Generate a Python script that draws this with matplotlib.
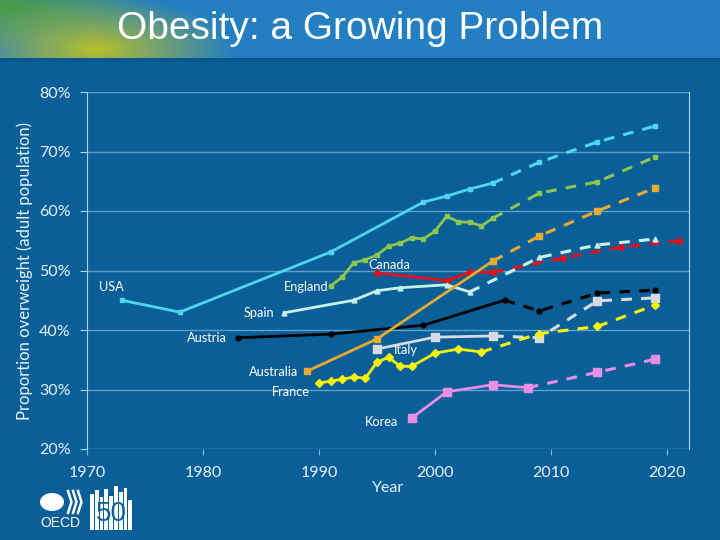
import numpy as np
import matplotlib
matplotlib.use("Agg")
import matplotlib.pyplot as plt
from matplotlib.patches import Circle, Rectangle
from matplotlib.lines import Line2D

usa_years      = [1973, 1978, 1991, 1999, 2001, 2003, 2005]
usa_vals       = [45.0, 43.0, 53.1, 61.5, 62.5, 63.7, 64.7]
usa_proj_years = [2009, 2014, 2019]
usa_proj_vals  = [68.2, 71.6, 74.3]

eng_years      = [1991, 1992, 1993, 1994, 1995, 1996, 1997, 1998, 1999, 2000, 2001, 2002, 2003, 2004, 2005]
eng_vals       = [47.4, 48.9, 51.3, 51.8, 52.6, 54.1, 54.6, 55.5, 55.3, 56.6, 59.1, 58.2, 58.1, 57.5, 58.8]
eng_proj_years = [2009, 2014, 2019]
eng_proj_vals  = [63.0, 64.9, 69.1]

can_years      = [1995, 2001, 2003, 2005]
can_vals       = [49.6, 48.3, 49.7, 49.7]
can_proj_years = [2011, 2016, 2021]
can_proj_vals  = [52.1, 53.9, 55.0]

spa_years      = [1987, 1993, 1995, 1997, 2001, 2003]
spa_vals       = [42.9, 45.0, 46.6, 47.1, 47.6, 46.4]
spa_proj_years = [2009, 2014, 2019]
spa_proj_vals  = [52.2, 54.3, 55.3]

aut_years      = [1983, 1991, 1999, 2006]
aut_vals       = [38.7, 39.3, 40.8, 45.0]
aut_proj_years = [2009, 2014, 2019]
aut_proj_vals  = [43.2, 46.2, 46.7]

ita_years      = [1995, 2000, 2005]
ita_vals       = [36.8, 38.8, 39.0]
ita_proj_years = [2009, 2014, 2019]
ita_proj_vals  = [38.7, 44.9, 45.4]

aus_years      = [1989, 1995, 2005]
aus_vals       = [33.1, 38.5, 51.6]
aus_proj_years = [2009, 2014, 2019]
aus_proj_vals  = [55.8, 60.0, 63.9]

fra_years      = [1990, 1991, 1992, 1993, 1994, 1995, 1996, 1997, 1998, 2000, 2002, 2004]
fra_vals       = [31.1, 31.4, 31.7, 32.1, 31.9, 34.6, 35.4, 33.9, 33.9, 36.1, 36.8, 36.3]
fra_proj_years = [2009, 2014, 2019]
fra_proj_vals  = [39.4, 40.6, 44.2]

kor_years      = [1998, 2001, 2005, 2008]
kor_vals       = [25.2, 29.6, 30.8, 30.3]
kor_proj_years = [2014, 2019]
kor_proj_vals  = [32.9, 35.1]

# (name, years, vals, proj years, proj vals, colour, marker, marker size, label x, label y)
series = [
    ("USA",       usa_years, usa_vals, usa_proj_years, usa_proj_vals, "#4fd6ee", "s", 3.5, 1972.1, 47.2),
    ("England",   eng_years, eng_vals, eng_proj_years, eng_proj_vals, "#8cc64e", "s", 3.5, 1988.9, 47.2),
    ("Canada",    can_years, can_vals, can_proj_years, can_proj_vals, "#e6101c", "D", 3.5, 1996.1, 50.9),
    ("Spain",     spa_years, spa_vals, spa_proj_years, spa_proj_vals, "#c6f3e6", "^", 3.5, 1984.8, 42.9),
    ("Austria",   aut_years, aut_vals, aut_proj_years, aut_proj_vals, "#000000", "o", 3.5, 1980.3, 38.7),
    ("Italy",     ita_years, ita_vals, ita_proj_years, ita_proj_vals, "#d6dbe2", "s", 5.5, 1997.5, 36.6),
    ("Australia", aus_years, aus_vals, aus_proj_years, aus_proj_vals, "#e8aa30", "s", 4.0, 1986.1, 32.9),
    ("France",    fra_years, fra_vals, fra_proj_years, fra_proj_vals, "#f4f20a", "D", 4.0, 1987.6, 29.6),
    ("Korea",     kor_years, kor_vals, kor_proj_years, kor_proj_vals, "#e88ee4", "s", 5.5, 1995.4, 24.5),
]

bg = "#0a5f98"
grid_col = "#5f9fd0"
text_col = "#e8f4fb"

fig = plt.figure(figsize=(7.2, 5.4), dpi=100)
fig.patch.set_facecolor(bg)

# header band with gradient
hdr = fig.add_axes([0, 1 - 58/540, 1, 58/540])
hx = np.linspace(0, 720, 360)
hy = np.linspace(0, 58, 30)
HX, HY = np.meshgrid(hx, hy)
d = np.sqrt(((HX - 95) / 140.0) ** 2 + ((HY - 50) / 55.0) ** 2)
w_yel = np.clip(1 - d, 0, 1)
d2 = np.sqrt(((HX - 0) / 150.0) ** 2 + ((HY - 5) / 45.0) ** 2)
w_grn = np.clip(1 - d2, 0, 1)
blue = np.array([0.14, 0.50, 0.76])
yel = np.array([0.72, 0.75, 0.16])
grn = np.array([0.30, 0.62, 0.26])
img = blue[None, None, :] * np.ones(HX.shape)[..., None]
img = img * (1 - w_grn[..., None]) + grn * w_grn[..., None]
img = img * (1 - w_yel[..., None]) + yel * w_yel[..., None]
light = np.clip(1 - np.abs((HX - 860 + HY * 1.2) / 60.0), 0, 1) * 0.08
img = np.clip(img + light[..., None], 0, 1)
hdr.imshow(img, aspect="auto", extent=[0, 720, 58, 0])
hdr.axis("off")
fig.patches.append(Rectangle((0, 1 - 62/540), 1, 4/540, transform=fig.transFigure,
                             facecolor="#07588e", edgecolor="none"))
fig.text(0.5, 1 - 29/540, "Obesity: a Growing Problem", color="white",
         fontsize=28, family=["Liberation Sans Narrow", "Liberation Sans"],
         ha="center", va="center")

ax = fig.add_axes([87/720, 1 - 449/540, (689 - 87)/720, (449 - 92)/540])
ax.set_facecolor(bg)

for name, yrs, vals, pyrs, pvals, col, mk, ms, lx, ly in series:
    ax.plot([yrs[-1]] + pyrs, [vals[-1]] + pvals, color=col, lw=2.2,
            ls=(0, (3.5, 3)), marker=mk, markersize=ms, markevery=list(range(1, len(pyrs) + 1)))
    ax.plot(yrs, vals, color=col, lw=2.0, marker=mk, markersize=ms)
    ax.text(lx, ly, name, color="white", fontsize=9.2, family="Lato", ha="center", va="center")

ax.set_xlim(1970, 2021.9)
ax.set_ylim(20, 80)
ax.set_xticks([1970, 1980, 1990, 2000, 2010, 2020])
ax.set_yticks([20, 30, 40, 50, 60, 70, 80])
ax.set_yticklabels([f"{v}%" for v in range(20, 81, 10)])
ax.yaxis.grid(True, color=grid_col, lw=1.0)
ax.set_axisbelow(True)
for s in ["top", "bottom"]:
    ax.spines[s].set_visible(False)
ax.spines["left"].set_color("#a9d4f0")
ax.spines["right"].set_color("#a9d4f0")
ax.tick_params(axis="y", colors="#a9d4f0", length=5, labelcolor=text_col, labelsize=11.5, pad=7)
ax.tick_params(axis="x", colors="#7fb4dc", length=4, labelcolor=text_col, labelsize=11.5, pad=8)
for lab in ax.get_xticklabels() + ax.get_yticklabels():
    lab.set_family("Lato")
ax.set_xlabel("Year", color=text_col, fontsize=11.5, family="Lato", labelpad=1)
ax.set_ylabel("Proportion overweight (adult population)", color=text_col, fontsize=12,
              family="Lato", labelpad=4)

# OECD 50 logo (rough)
fig.patches.append(Circle((52/720, 1 - 502/540), 12/720, transform=fig.transFigure,
                          facecolor="white", edgecolor="none"))
for k in range(3):
    x0 = 68 + k * 5
    fig.lines.append(Line2D([x0/720, (x0 + 3.5)/720, x0/720],
                            [1 - 491/540, 1 - 502/540, 1 - 513/540],
                            transform=fig.transFigure, color="white", lw=1.8))
fig.text(60/720, 1 - 523/540, "OECD", color="white", fontsize=10, family="Liberation Sans",
         ha="center", va="center")
bar_h = [36, 40, 33, 41, 34, 44, 38, 42, 30]
for i, h in enumerate(bar_h):
    fig.patches.append(Rectangle(((90 + i * 4.8)/720, 1 - 530/540), 3.8/720, h/540,
                                 transform=fig.transFigure, facecolor="white", edgecolor="none"))
fig.text(111/720, 1 - 514/540, "50", color=bg, fontsize=20, family="Liberation Sans",
         ha="center", va="center")

fig.savefig("out.png", dpi=100, facecolor=fig.get_facecolor())
